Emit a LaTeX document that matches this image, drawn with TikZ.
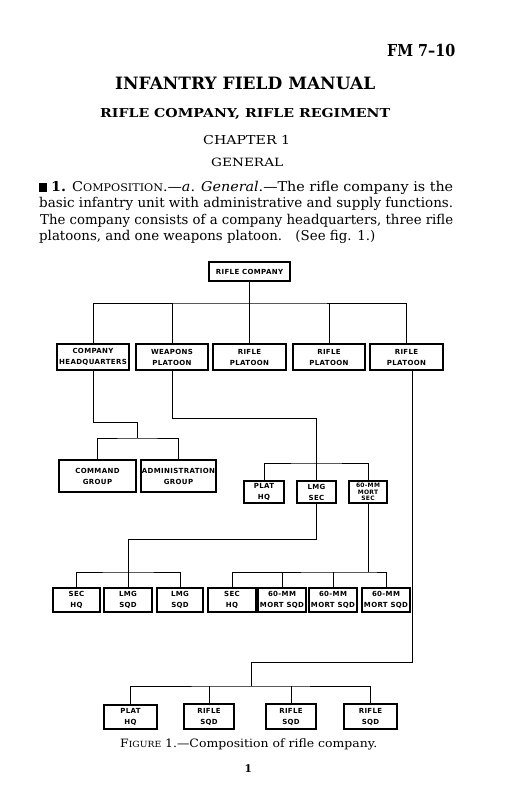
\documentclass[tikz,border=0pt]{standalone}
\usepackage{fontspec}
\setmainfont{DejaVu Serif}
\newfontfamily\boxfont{DejaVu Sans}[LetterSpace=5]
\usepackage{graphicx}
\newcommand\fitw[2]{\resizebox{#1}{\height}{#2}}
\begin{document}
\begin{tikzpicture}[x=1pt,y=-1pt,
  box/.style={draw, line width=1.3pt, inner sep=0pt, align=center,
    font=\boxfont\bfseries\fontsize{7}{11}\selectfont},
  conn/.style={line width=1pt},
  txt/.style={inner sep=0pt, anchor=base west}]
\useasboundingbox[fill=white] (0,0) rectangle (521,809);

% ---------- page text ----------
\node[txt] (fm) at (387,56) {\fitw{68pt}{\fontsize{16.5}{16.5}\selectfont\bfseries FM 7--10}};
\node[txt] (title) at (115,89.3) {\fitw{260pt}{\fontsize{17}{17}\selectfont\bfseries INFANTRY FIELD MANUAL}};
\node[txt] (sub) at (100,117.3) {\fitw{290pt}{\fontsize{12.3}{12.3}\selectfont\bfseries RIFLE COMPANY, RIFLE REGIMENT}};
\node[txt] (chap) at (203,144) {\fitw{87pt}{\fontsize{12.3}{12.3}\selectfont CHAPTER 1}};
\node[txt] (gen) at (211,166.7) {\fitw{72pt}{\fontsize{11.4}{11.4}\selectfont GENERAL}};

\node[txt] (p1) at (39,191) {\fitw{414pt}{\fontsize{13.5}{13.5}\selectfont\rule[-0.5pt]{7pt}{9pt}\ \textbf{1.} C{\fontsize{10.5}{10.5}\selectfont OMPOSITION}.---\textit{a}. \textit{General}.---The rifle company is the}};
\node[txt] (p2) at (39,207.5) {\fitw{414pt}{\fontsize{13.5}{13.5}\selectfont basic infantry unit with administrative and supply functions.}};
\node[txt] (p3) at (40,224) {\fitw{413pt}{\fontsize{13.5}{13.5}\selectfont The company consists of a company headquarters, three rifle}};
\node[txt] (p4) at (39,240.5) {\fitw{336pt}{\fontsize{13.5}{13.5}\selectfont platoons, and one weapons platoon.\quad (See fig. 1.)}};

\node[txt] (cap) at (120,747) {\fitw{257pt}{\fontsize{11.5}{11.5}\selectfont F{\fontsize{8.5}{8.5}\selectfont IGURE} 1.---Composition of rifle company.}};
\node[txt] (pg) at (244.5,772.7) {\fontsize{10.5}{10.5}\selectfont\bfseries 1};

% ---------- boxes ----------
\node[box, minimum width=81, minimum height=19] (rc) at (249.5,271.5) {RIFLE COMPANY};

\node[box, minimum width=72, minimum height=26] (chq) at (93,357) {COMPANY\\HEADQUARTERS};
\node[box, minimum width=72, minimum height=26] (wpn) at (172,357) {WEAPONS\\PLATOON};
\node[box, minimum width=73, minimum height=26] (rp1) at (249.5,357) {RIFLE\\PLATOON};
\node[box, minimum width=72, minimum height=26] (rp2) at (329,357) {RIFLE\\PLATOON};
\node[box, minimum width=73, minimum height=26] (rp3) at (406.5,357) {RIFLE\\PLATOON};

\node[box, minimum width=77, minimum height=32] (cmd) at (97.5,476) {COMMAND\\GROUP};
\node[box, minimum width=75, minimum height=32] (adm) at (178.5,476) {ADMINISTRATION\\GROUP};

\node[box, minimum width=40, minimum height=22] (phq) at (264,492) {PLAT\\HQ};
\node[box, minimum width=39, minimum height=22] (lmgsec) at (316.5,492) {LMG\\SEC};
\node[box, minimum width=38, minimum height=22, font=\boxfont\bfseries\fontsize{6}{6.8}\selectfont] (mortsec) at (368,492) {60-MM\\MORT\\SEC};

\node[box, minimum width=47, minimum height=24] (sechqa) at (76.5,600) {SEC\\HQ};
\node[box, minimum width=48, minimum height=24] (lmga) at (128,600) {LMG\\SQD};
\node[box, minimum width=46, minimum height=24] (lmgb) at (180,600) {LMG\\SQD};
\node[box, minimum width=48, minimum height=24] (sechqb) at (232,600) {SEC\\HQ};
\node[box, minimum width=48, minimum height=24] (ma) at (282,600) {60-MM\\MORT SQD};
\node[box, minimum width=48, minimum height=24] (mb) at (333,600) {60-MM\\MORT SQD};
\node[box, minimum width=48, minimum height=24] (mc) at (386,600) {60-MM\\MORT SQD};

\node[box, minimum width=53, minimum height=24] (rphq) at (130.5,717) {PLAT\\HQ};
\node[box, minimum width=50, minimum height=25] (rsa) at (209,716.5) {RIFLE\\SQD};
\node[box, minimum width=50, minimum height=25] (rsb) at (291,716.5) {RIFLE\\SQD};
\node[box, minimum width=53, minimum height=25] (rsc) at (370.5,716.5) {RIFLE\\SQD};

% ---------- junction points ----------
\coordinate (b1) at (249.5,303);
\coordinate (j1) at (137,422);
\coordinate (j1b) at (137,438);
\coordinate (j2) at (316.5,418);
\coordinate (j2b) at (316.5,463);
\coordinate (j3) at (128,539);
\coordinate (j3b) at (128,572);
\coordinate (j4) at (368,572);
\coordinate (r3s) at (412,370);
\coordinate (j5) at (251,662);
\coordinate (j5b) at (251,686);

% ---------- connectors ----------
\draw[conn] (rc.south) -- (b1);
\draw[conn] (chq.north) |- (b1) -| (rp3.north);
\draw[conn] (wpn.north) -- (wpn.north |- b1);
\draw[conn] (rp1.north) -- (rp1.north |- b1);
\draw[conn] (rp2.north) -- (rp2.north |- b1);

\draw[conn] (chq.south) |- (j1) -- (j1b);
\draw[conn] (cmd.north) |- (j1b) -| (adm.north);

\draw[conn] (wpn.south) |- (j2) -- (lmgsec.north);
\draw[conn] (phq.north) |- (j2b) -| (mortsec.north);

\draw[conn] (lmgsec.south) |- (j3) -- (lmga.north);
\draw[conn] (sechqa.north) |- (j3b) -| (lmgb.north);

\draw[conn] (mortsec.south) -- (j4);
\draw[conn] (sechqb.north) |- (j4) -| (mc.north);
\draw[conn] (ma.north) -- (ma.north |- j4);
\draw[conn] (mb.north) -- (mb.north |- j4);

\draw[conn] (r3s) |- (j5) -- (j5b);
\draw[conn] (rphq.north) |- (j5b) -| (rsc.north);
\draw[conn] (rsa.north) -- (rsa.north |- j5b);
\draw[conn] (rsb.north) -- (rsb.north |- j5b);
\end{tikzpicture}
\end{document}
